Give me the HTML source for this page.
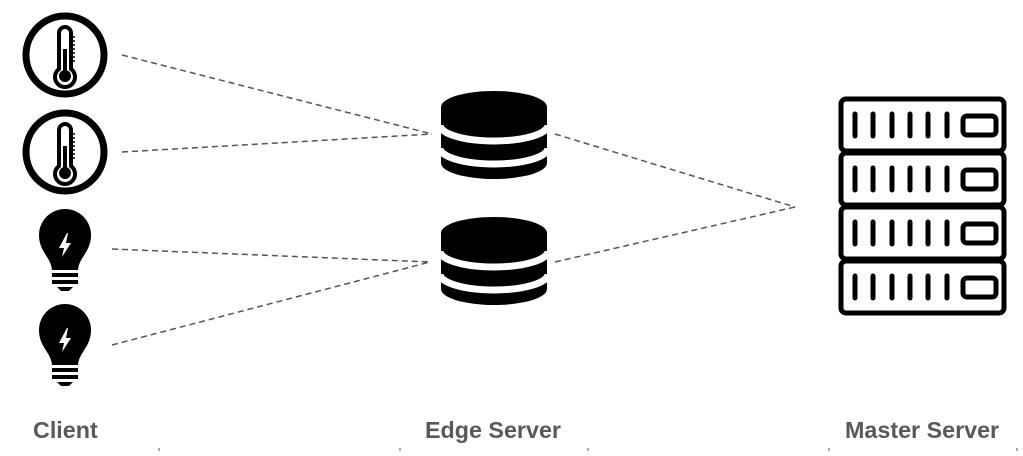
<!DOCTYPE html>
<html><head><style>
body{margin:0;background:#fff;width:1023px;height:451px;overflow:hidden}
text{font-family:"Liberation Sans",sans-serif;font-weight:bold;font-size:23.3px;fill:#595959}
</style></head><body>
<svg width="1023" height="451" viewBox="0 0 1023 451">
<defs>
<g id="therm">
<circle cx="0" cy="0" r="39" fill="none" stroke="#000" stroke-width="7"/>
<path d="M-6,14 V-22 A6,6 0 0 1 6,-22 V14 A10,10 0 1 1 -6,14 Z" fill="none" stroke="#000" stroke-width="4"/>
<path d="M-2,-6 H2 V17 A5,5 0 1 1 -2,17 Z" fill="#000"/>
<circle cx="0" cy="21" r="6" fill="#000"/>
<g stroke="#000" stroke-width="1.5"><line x1="6" y1="-18" x2="10" y2="-18"/><line x1="6" y1="-14" x2="10" y2="-14"/><line x1="6" y1="-10" x2="10" y2="-10"/><line x1="6" y1="-6" x2="10" y2="-6"/><line x1="6" y1="-2" x2="10" y2="-2"/><line x1="6" y1="2" x2="10" y2="2"/><line x1="6" y1="6" x2="10" y2="6"/></g>
</g>
<g id="bulb">
<path d="M-13,23 C-14,10 -26,5 -26,-12 A26,26 0 0 1 26,-12 C26,5 14,10 13,23 Z" fill="#000"/>
<path d="M2,-14 L-6,1 H-1 L-3,10 L6,-4 H1 L3,-14 Z" fill="#fff"/>
<rect x="-13" y="26" width="26" height="4" fill="#000"/>
<rect x="-13" y="33" width="26" height="4" fill="#000"/>
<path d="M-8,40 H8 L4,44 H-4 Z" fill="#000"/>
</g>
<g id="db">
<path d="M-53,0 V56 A53,16 0 0 0 53,56 V0 Z" fill="#000"/>
<ellipse cx="0" cy="0" rx="53" ry="16" fill="#000"/>
<path d="M-54,18 A54,16 0 0 0 54,18" fill="none" stroke="#fff" stroke-width="7"/>
<path d="M-54,41 A54,16 0 0 0 54,41" fill="none" stroke="#fff" stroke-width="7"/>
</g>
<g id="unit">
<rect x="841" y="0" width="163" height="52" rx="5" fill="none" stroke="#000" stroke-width="5"/>
<g stroke="#000" stroke-width="5" stroke-linecap="round">
<line x1="855" y1="15" x2="855" y2="37"/><line x1="873" y1="15" x2="873" y2="37"/><line x1="892" y1="15" x2="892" y2="37"/><line x1="910" y1="15" x2="910" y2="37"/><line x1="928" y1="15" x2="928" y2="37"/><line x1="947" y1="15" x2="947" y2="37"/>
</g>
<rect x="963" y="17" width="33" height="19" rx="4" fill="none" stroke="#000" stroke-width="5"/>
</g>
</defs>
<g stroke="#555" stroke-width="1.5" stroke-dasharray="6 4" fill="none">
<line x1="122" y1="55" x2="432" y2="134"/>
<line x1="122" y1="152" x2="432" y2="134"/>
<line x1="112" y1="249" x2="430" y2="262"/>
<line x1="112" y1="345" x2="430" y2="262"/>
<line x1="555" y1="134" x2="795" y2="207"/>
<line x1="555" y1="262" x2="795" y2="207"/>
</g>
<use href="#therm" x="65" y="55"/>
<use href="#therm" x="65" y="152"/>
<use href="#bulb" x="65" y="247"/>
<use href="#bulb" x="65" y="342"/>
<use href="#db" x="494" y="107"/>
<use href="#db" x="494" y="233"/>
<use href="#unit" y="99"/>
<use href="#unit" y="153"/>
<use href="#unit" y="207"/>
<use href="#unit" y="261"/>
<text x="33" y="438">Client</text>
<text x="425" y="438">Edge Server</text>
<text x="845" y="438">Master Server</text>
<g stroke="#555" stroke-width="1"><line x1="159" y1="448" x2="159" y2="451"/><line x1="400" y1="448" x2="400" y2="451"/><line x1="588" y1="448" x2="588" y2="451"/><line x1="829" y1="448" x2="829" y2="451"/><line x1="1017" y1="448" x2="1017" y2="451"/></g>
</svg>
</body></html>
